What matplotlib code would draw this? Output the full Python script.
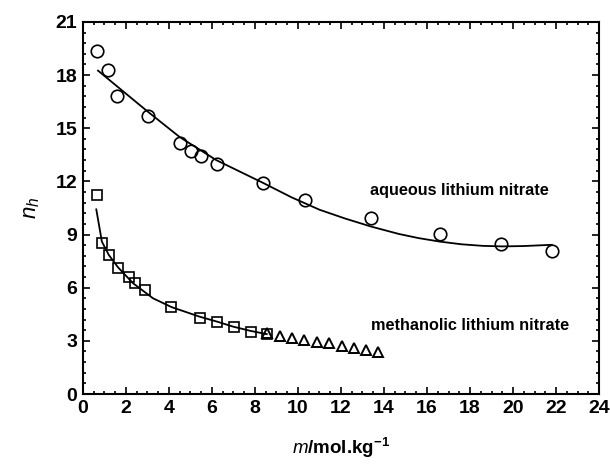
import matplotlib
matplotlib.use('Agg')
import matplotlib.pyplot as plt
from matplotlib.ticker import MultipleLocator

# aqueous lithium nitrate (circles)
aq_m = [0.64, 1.15, 1.57, 3.01, 4.51, 5.02, 5.50, 6.23, 8.36, 10.31, 13.40, 16.62, 19.43, 21.83]
aq_nh = [19.33, 18.30, 16.84, 15.68, 14.19, 13.74, 13.46, 12.97, 11.90, 10.95, 9.92, 9.05, 8.47, 8.06]

# aqueous fit curve
aq_fit_m = [0.7, 1.9, 3.0, 4.5, 6.2, 8.4, 9.7, 11.0, 12.2, 13.4, 14.7, 15.6, 16.6, 17.6, 18.6, 19.5, 20.5, 21.8]
aq_fit_nh = [18.25, 17.05, 15.95, 14.5, 13.2, 11.9, 11.1, 10.4, 9.9, 9.45, 9.03, 8.8, 8.6, 8.45, 8.36, 8.33, 8.35, 8.42]

# methanolic lithium nitrate (squares)
me_m = [0.64, 0.87, 1.21, 1.63, 2.15, 2.42, 2.87, 4.09, 5.43, 6.25, 7.01, 7.83, 8.54]
me_nh = [11.24, 8.54, 7.87, 7.11, 6.62, 6.27, 5.85, 4.93, 4.31, 4.05, 3.78, 3.52, 3.37]

# methanolic extra points (triangles)
tri_m = [8.54, 9.16, 9.72, 10.28, 10.87, 11.44, 12.03, 12.59, 13.15, 13.73]
tri_nh = [3.42, 3.27, 3.18, 3.05, 2.95, 2.86, 2.73, 2.61, 2.48, 2.35]

# methanolic fit curve
me_fit_m = [0.62, 0.88, 1.2, 1.63, 2.33, 3.26, 4.13, 5.41, 6.25, 6.99, 7.8, 8.55]
me_fit_nh = [10.42, 8.6, 7.85, 7.15, 6.25, 5.4, 4.9, 4.37, 4.08, 3.8, 3.56, 3.38]

plt.rcParams['font.family'] = ['Liberation Sans', 'DejaVu Sans']
plt.rcParams['mathtext.fontset'] = 'custom'
plt.rcParams['mathtext.it'] = 'Liberation Sans:italic'
plt.rcParams['mathtext.bf'] = 'Liberation Sans:bold'

fig = plt.figure(figsize=(6.1, 4.66), dpi=100)
ax = fig.add_axes([0.136, 0.1545, 0.846, 0.7985])

ax.plot(aq_fit_m, aq_fit_nh, color='black', lw=1.3)
ax.plot(me_fit_m, me_fit_nh, color='black', lw=1.3)
ax.plot(aq_m, aq_nh, 'o', ms=9, mfc='none', mec='black', mew=1.2)
ax.plot(me_m, me_nh, 's', ms=7.3, mfc='none', mec='black', mew=1.2)
ax.plot(tri_m, tri_nh, '^', ms=7, mfc='none', mec='black', mew=1.4)

ax.text(13.35, 11.48, 'aqueous lithium nitrate', fontsize=11.7, fontweight='bold', va='center')
ax.text(13.38, 3.84, 'methanolic lithium nitrate', fontsize=11.7, fontweight='bold', va='center')

ax.set_xlim(0, 24)
ax.set_ylim(0, 21)
ax.xaxis.set_major_locator(MultipleLocator(2))
ax.xaxis.set_minor_locator(MultipleLocator(0.5))
ax.yaxis.set_major_locator(MultipleLocator(3))
ax.yaxis.set_minor_locator(MultipleLocator(0.6))
ax.tick_params(which='both', direction='in', top=True, right=True, width=1.2)
ax.tick_params(which='major', length=5, labelsize=14, pad=4)
ax.tick_params(which='minor', length=2.5)
for lab in ax.get_xticklabels() + ax.get_yticklabels():
    lab.set_fontweight('bold')
for sp in ax.spines.values():
    sp.set_linewidth(1.5)

ax.set_xlabel(r'$m$/mol.kg$^{\mathbf{-1}}$', fontsize=13.5, fontweight='bold', labelpad=14)
ax.set_ylabel(r'$n_h$', fontsize=16, labelpad=10)

fig.savefig('out.png', dpi=100)
